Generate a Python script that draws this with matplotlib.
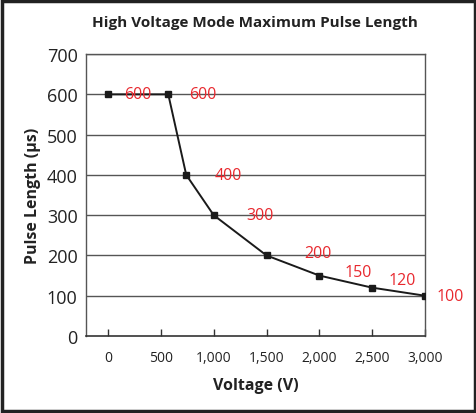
import matplotlib
matplotlib.use("Agg")
import matplotlib.pyplot as plt
from matplotlib.patches import Rectangle

plt.rcParams['font.family'] = ['Open Sans', 'DejaVu Sans']

voltage = [0, 570, 740, 1000, 1500, 2000, 2500, 3000]
pulse = [600, 600, 400, 300, 200, 150, 120, 100]
label_text = ["600", "600", "400", "300", "200", "150", "120", "100"]
label_x = [280, 900, 1140, 1440, 1990, 2370, 2785, 3240]
label_y = [600, 600, 400, 300, 205, 160, 140, 100]
x_ticks = [0, 500, 1000, 1500, 2000, 2500, 3000]
x_ticklabels = ["0", "500", "1,000", "1,500", "2,000", "2,500", "3,000"]
y_ticks = [0, 100, 200, 300, 400, 500, 600, 700]

fig = plt.figure(figsize=(4.77, 4.14), dpi=100)
fig.patches.append(Rectangle((0.004, 0.006), 0.992, 0.988, transform=fig.transFigure,
                             fill=False, edgecolor='#222222', linewidth=2.5))
ax = fig.add_axes([0.180, 0.186, 0.711, 0.681])

for y in y_ticks[1:]:
    ax.axhline(y, color='#555555', linewidth=1.0, zorder=1)

ax.plot(voltage, pulse, color='#1a1a1a', linewidth=1.4, marker='s', markersize=5, zorder=3)
for t, x, y in zip(label_text, label_x, label_y):
    ax.text(x, y, t, color='#e8282e', fontsize=11.5, ha='center', va='center', zorder=4, clip_on=False)

ax.set_xlim(-210, 3000)
ax.set_ylim(0, 700)
ax.set_xticks(x_ticks)
ax.set_xticklabels(x_ticklabels)
ax.set_yticks(y_ticks)
ax.tick_params(axis='x', direction='in', length=5, width=1, color='#333333', pad=10, labelsize=10, labelcolor='#222222')
ax.tick_params(axis='y', length=0, pad=6, labelsize=13, labelcolor='#222222')
for s in ['left', 'top', 'right']:
    ax.spines[s].set_color('#555555')
    ax.spines[s].set_linewidth(1.0)
ax.spines['bottom'].set_color('#333333')
ax.spines['bottom'].set_linewidth(1.2)

ax.set_xlabel('Voltage (V)', fontsize=11.5, fontweight='bold', labelpad=9, color='#222222')
ax.set_ylabel('Pulse Length (μs)', fontsize=11.5, fontweight='bold', labelpad=4, color='#222222')
fig.text(0.535, 0.945, 'High Voltage Mode Maximum Pulse Length', ha='center', va='center',
         fontsize=11, fontweight='bold', color='#222222')

fig.savefig('out.png', dpi=100)
